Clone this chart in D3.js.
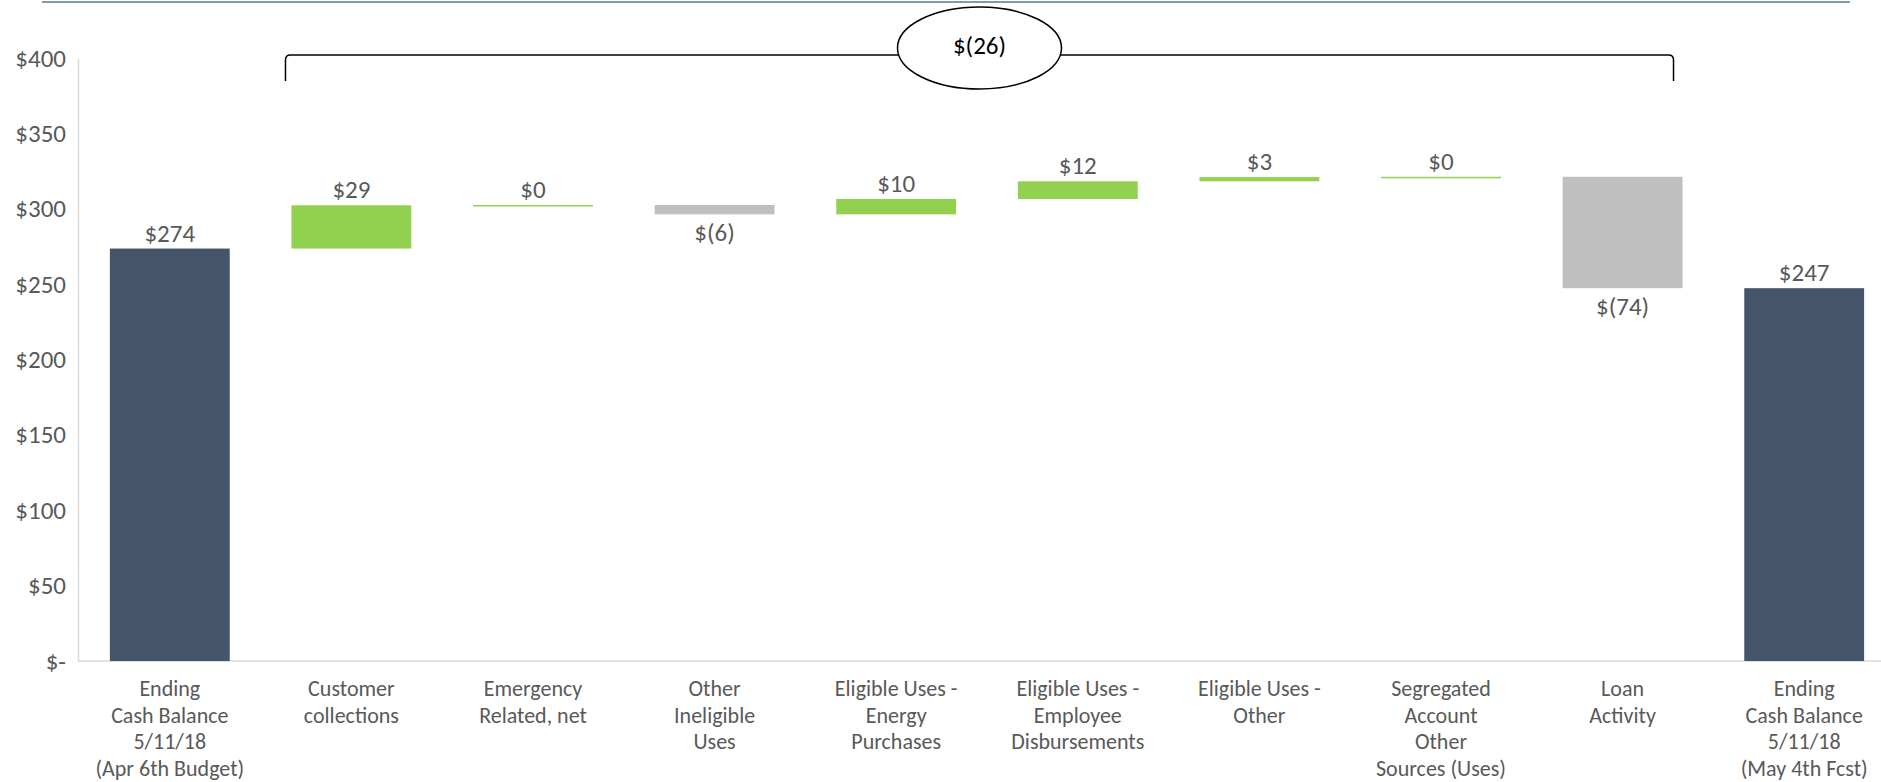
<!DOCTYPE html>
<html>
<head>
<meta charset="utf-8">
<script src="https://cdn.jsdelivr.net/npm/d3@7"></script>
<style>
    body { margin: 0; background: white; }
    text { font-family: Calibri, Carlito, "Liberation Sans", Arial, sans-serif; }
</style>
</head>
<body>
<div id="chart"></div>
<script>
"use strict";

// Chart data
var categories = ["start", "collections", "emergency", "ineligible", "energy",
                  "employee", "eligible_other", "segregated", "loan", "end"];

var category_lines = [
    ["Ending", "Cash Balance", "5/11/18", "(Apr 6th Budget)"],
    ["Customer", "collections"],
    ["Emergency", "Related, net"],
    ["Other", "Ineligible", "Uses"],
    ["Eligible Uses -", "Energy", "Purchases"],
    ["Eligible Uses -", "Employee", "Disbursements"],
    ["Eligible Uses -", "Other"],
    ["Segregated", "Account", "Other", "Sources (Uses)"],
    ["Loan", "Activity"],
    ["Ending", "Cash Balance", "5/11/18", "(May 4th Fcst)"]
];

// Totals for first and last column, changes in between
var values = [273.6, 28.7, 0.2, -6.2, 10.2, 11.7, 2.8, 0.2, -73.9, 247.3];
var is_total = [true, false, false, false, false, false, false, false, false, true];

var y_ticks = [0, 50, 100, 150, 200, 250, 300, 350, 400];

const WIDTH = 1881;
const HEIGHT = 782;

const COLOR_TOTAL = "#44546A";
const COLOR_UP = "#92D050";
const COLOR_DOWN = "#BFBFBF";
const TEXT_COLOR = "#595959";

var margins = {top: 58, left: 78, bottom: 121};

// Build the waterfall steps
var running = 0;
var steps = values.map(function (v, i) {
    var step = {category: categories[i], value: v, total: is_total[i]};
    if (is_total[i]) {
        step.low = 0;
        step.high = v;
        running = v;
    } else {
        step.low = Math.min(running, running + v);
        step.high = Math.max(running, running + v);
        running += v;
    }
    return step;
});

var net_change = d3.sum(values.slice(1, values.length - 1));

function money(v) {
    var r = Math.round(Math.abs(v));
    return v < -0.5 ? "$(" + r + ")" : "$" + r;
}

var svg = d3.select("#chart").append("svg")
    .attr("width", WIDTH)
    .attr("height", HEIGHT);

svg.append("rect")
    .attr("width", WIDTH)
    .attr("height", HEIGHT)
    .attr("fill", "white");

var y_scale = d3.scaleLinear()
    .domain([0, 400])
    .range([HEIGHT - margins.bottom, margins.top]);

// The band range runs past the right edge like in the original slide
var x_scale = d3.scaleBand()
    .domain(categories)
    .range([margins.left + 1, 1895])
    .paddingInner(0.34)
    .paddingOuter(0.17);

// Top rule of the slide
svg.append("line")
    .attr("x1", 42).attr("x2", 1850)
    .attr("y1", 2).attr("y2", 2)
    .attr("stroke", "#8497B0")
    .attr("stroke-width", 2);

// Y axis
var y_axis = d3.axisLeft(y_scale)
    .tickValues(y_ticks)
    .tickSize(0)
    .tickPadding(12)
    .tickFormat(function (d) { return d === 0 ? "$-" : "$" + d; });

var y_g = svg.append("g")
    .attr("transform", "translate(" + margins.left + ",0)")
    .call(y_axis);
y_g.select(".domain").attr("stroke", "#D9D9D9").attr("stroke-width", 1.5);
y_g.selectAll("text")
    .attr("fill", TEXT_COLOR)
    .style("font-size", "25px");

// X axis baseline
svg.append("line")
    .attr("x1", margins.left).attr("x2", WIDTH)
    .attr("y1", y_scale(0)).attr("y2", y_scale(0))
    .attr("stroke", "#D9D9D9")
    .attr("stroke-width", 1.5);

// Bars
svg.selectAll("rect.bar")
    .data(steps)
    .enter()
    .append("rect")
    .attr("class", "bar")
    .attr("x", function (d) { return x_scale(d.category); })
    .attr("width", x_scale.bandwidth())
    .attr("y", function (d) { return y_scale(d.high); })
    .attr("height", function (d) { return Math.max(1.5, y_scale(d.low) - y_scale(d.high)); })
    .attr("fill", function (d) {
        if (d.total) return COLOR_TOTAL;
        return d.value >= 0 ? COLOR_UP : COLOR_DOWN;
    });

// Value labels: above for totals and increases, below for decreases
svg.selectAll("text.value")
    .data(steps)
    .enter()
    .append("text")
    .attr("class", "value")
    .attr("text-anchor", "middle")
    .attr("x", function (d) { return x_scale(d.category) + x_scale.bandwidth() / 2; })
    .attr("y", function (d) {
        if (!d.total && d.value < 0) return y_scale(d.low) + 27;
        return y_scale(d.high) - 7;
    })
    .attr("fill", TEXT_COLOR)
    .style("font-size", "25px")
    .text(function (d) { return money(d.value); });

// Category labels, several lines each
var cat_g = svg.selectAll("text.category")
    .data(categories)
    .enter()
    .append("text")
    .attr("class", "category")
    .attr("text-anchor", "middle")
    .attr("fill", TEXT_COLOR)
    .style("font-size", "22px");

cat_g.selectAll("tspan")
    .data(function (d, i) { return category_lines[i].map(function (l) { return {cat: d, line: l}; }); })
    .enter()
    .append("tspan")
    .attr("x", function (d) { return x_scale(d.cat) + x_scale.bandwidth() / 2; })
    .attr("y", function (d, j) { return y_scale(0) + 35 + j * 26.7; })
    .text(function (d) { return d.line; });

// Bracket over the change columns with the net change in an ellipse
var bracket_left = x_scale(categories[1]) - 6;
var bracket_right = x_scale(categories[8]) + x_scale.bandwidth() - 9;
var bracket_y = 55;
var bracket_bottom = 81;

svg.append("path")
    .attr("d", "M" + bracket_left + "," + bracket_bottom +
               " L" + bracket_left + "," + (bracket_y + 5) +
               " Q" + bracket_left + "," + bracket_y + " " + (bracket_left + 5) + "," + bracket_y +
               " L" + (bracket_right - 5) + "," + bracket_y +
               " Q" + bracket_right + "," + bracket_y + " " + bracket_right + "," + (bracket_y + 5) +
               " L" + bracket_right + "," + bracket_bottom)
    .attr("fill", "none")
    .attr("stroke", "#000")
    .attr("stroke-width", 1.5);

var ellipse_x = (bracket_left + bracket_right) / 2;

svg.append("ellipse")
    .attr("cx", ellipse_x)
    .attr("cy", 48)
    .attr("rx", 82)
    .attr("ry", 41)
    .attr("fill", "white")
    .attr("stroke", "#000")
    .attr("stroke-width", 1.5);

svg.append("text")
    .attr("x", ellipse_x)
    .attr("y", 54)
    .attr("text-anchor", "middle")
    .attr("fill", "#000")
    .style("font-size", "25px")
    .text(money(net_change));
</script>
</body>
</html>
